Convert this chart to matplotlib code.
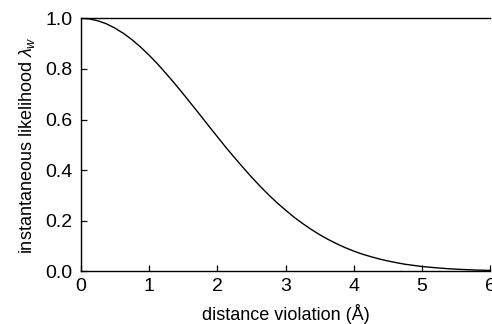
import matplotlib
matplotlib.use("Agg")
import matplotlib.pyplot as plt

plt.rcParams['font.family'] = ['Liberation Sans', 'DejaVu Sans']
plt.rcParams['mathtext.fontset'] = 'custom'
plt.rcParams['mathtext.rm'] = 'Liberation Sans'
plt.rcParams['mathtext.it'] = 'Liberation Sans:italic'

# distance violation (Å) and read-off instantaneous likelihood values
distance = [0.0, 0.125, 0.25, 0.375, 0.5, 0.625, 0.75, 0.875, 1.0, 1.125, 1.25, 1.375,
            1.5, 1.625, 1.75, 1.875, 2.0, 2.125, 2.25, 2.375, 2.5, 2.625, 2.75, 2.875,
            3.0, 3.125, 3.25, 3.375, 3.5, 3.625, 3.75, 3.875, 4.0, 4.125, 4.25, 4.375,
            4.5, 4.625, 4.75, 4.875, 5.0, 5.125, 5.25, 5.375, 5.5, 5.625, 5.75, 5.875, 6.0]
likelihood = [1.0, 0.9975, 0.990, 0.978, 0.961, 0.940, 0.915, 0.886, 0.854, 0.819,
              0.781, 0.742, 0.701, 0.659, 0.617, 0.574, 0.532, 0.490, 0.450, 0.411,
              0.373, 0.337, 0.303, 0.271, 0.242, 0.214, 0.189, 0.166, 0.145, 0.126,
              0.109, 0.0935, 0.080, 0.068, 0.058, 0.0488, 0.041, 0.0342, 0.028, 0.0235,
              0.019, 0.0158, 0.013, 0.0105, 0.0085, 0.0068, 0.0054, 0.0043, 0.0034]
x_ticks = [0, 1, 2, 3, 4, 5, 6]
y_ticks = [0.0, 0.2, 0.4, 0.6, 0.8, 1.0]

fig = plt.figure(figsize=(4.92, 3.24), dpi=100)
ax = fig.add_axes([81/492, 1-271.3/324, (490-81)/492, (271.3-18.3)/324])
ax.plot(distance, likelihood, color='black', lw=1.0)
ax.set_xlim(0, 6)
ax.set_ylim(0, 1)
ax.set_xticks(x_ticks)
ax.set_xticklabels([str(v) for v in x_ticks])
ax.set_yticks(y_ticks)
ax.set_yticklabels([f"{v:.1f}" for v in y_ticks])
ax.spines['right'].set_visible(False)
for s in ['left', 'bottom', 'top']:
    ax.spines[s].set_linewidth(1.0)
ax.tick_params(direction='in', length=4, width=0.9, labelsize=14, pad=5)
ax.tick_params(axis='y', pad=6)
ax.set_xlabel("distance violation (Å)", fontsize=13, labelpad=6)
ax.set_ylabel(r"instantaneous likelihood $\lambda_w$", fontsize=13, labelpad=6)
fig.savefig("out.png", dpi=100)
